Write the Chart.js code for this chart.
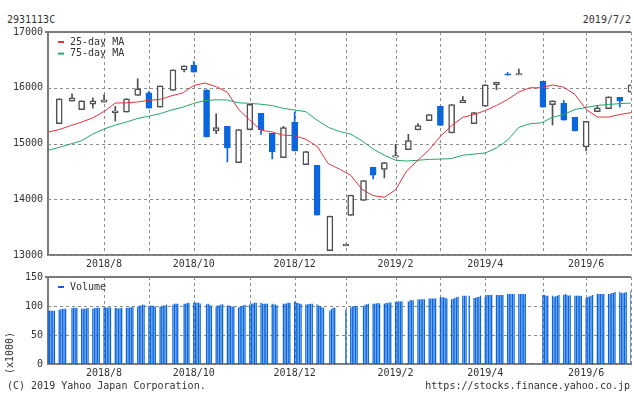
<!DOCTYPE html>
<html lang="ja">
<head>
<meta charset="UTF-8">
<title>2931113C</title>
<script src="https://cdn.jsdelivr.net/npm/chart.js@4"></script>
<style>
    body {
        margin: 0;
        width: 634px;
        height: 394px;
        position: relative;
        overflow: hidden;
        background: #fff;
        font-family: 'DejaVu Sans Mono', monospace;
        font-size: 10px;
        color: #333;
    }
    .txt { position: absolute; line-height: 12px; white-space: nowrap; }
    #wrapTop { position: absolute; left: 0; top: 0; width: 634px; height: 277px; }
    #wrapVol { position: absolute; left: 0; top: 262px; width: 634px; height: 120px; }
    #unit { left: -11px; top: 347px; width: 42px; text-align: center; transform: rotate(-90deg); }
</style>
</head>
<body>
<div class="txt" style="left:7px; top:14px;">2931113C</div>
<div class="txt" style="right:3px; top:14px;">2019/7/2</div>
<div id="wrapTop"><canvas id="priceChart"></canvas></div>
<div id="wrapVol"><canvas id="volumeChart"></canvas></div>
<div class="txt" id="unit">(x1000)</div>
<div class="txt" style="left:7px; top:380px;">(C) 2019 Yahoo Japan Corporation.</div>
<div class="txt" style="right:4px; top:380px;">https://stocks.finance.yahoo.co.jp</div>

<script>
// weekly candles: first trading day of each week
const candleDates = [
    '2018-07-09', '2018-07-17', '2018-07-23', '2018-07-30', '2018-08-06', '2018-08-13',
    '2018-08-20', '2018-08-27', '2018-09-03', '2018-09-10', '2018-09-18', '2018-09-25',
    '2018-10-01', '2018-10-09', '2018-10-15', '2018-10-22', '2018-10-29', '2018-11-05',
    '2018-11-12', '2018-11-19', '2018-11-26', '2018-12-03', '2018-12-10', '2018-12-17',
    '2018-12-25', '2019-01-04', '2019-01-07', '2019-01-15', '2019-01-21', '2019-01-28',
    '2019-02-04', '2019-02-12', '2019-02-18', '2019-02-25', '2019-03-04', '2019-03-11',
    '2019-03-18', '2019-03-25', '2019-04-01', '2019-04-08', '2019-04-15', '2019-04-22',
    '2019-05-07', '2019-05-13', '2019-05-20', '2019-05-27', '2019-06-03', '2019-06-10',
    '2019-06-17', '2019-06-24', '2019-07-01'
];
const openP = [
    15356, 15760, 15606, 15707, 15742, 15555, 15564, 15862, 15910, 15653, 15952, 16322,
    16400, 15964, 15224, 15308, 14658, 15249, 15540, 15183, 14748, 15379, 14622, 14610,
    13077, 13165, 13710, 13978, 14574, 14533, 14755, 14891, 15243, 15410, 15665, 15188,
    15732, 15356, 15671, 16054, 16250, 16228, 16113, 15696, 15719, 15469, 14938, 15571,
    15624, 15826, 15921
];
const highP = [
    15803, 15893, 15767, 15821, 15875, 15665, 15803, 16161, 15934, 16036, 16322, 16394,
    16470, 15964, 15535, 15308, 15249, 15701, 15540, 15183, 15308, 15564, 14855, 14610,
    13698, 13195, 14073, 14336, 14574, 14658, 14986, 15165, 15356, 15517, 15665, 15696,
    15844, 15553, 16054, 16100, 16274, 16333, 16113, 15767, 15773, 15469, 15397, 15683,
    15839, 15826, 16054
];
const lowP = [
    15356, 15760, 15606, 15635, 15742, 15403, 15564, 15862, 15635, 15653, 15952, 16286,
    16280, 15116, 15177, 14669, 14658, 15249, 15165, 14723, 14748, 14866, 14622, 13716,
    13077, 13165, 13710, 13978, 14365, 14383, 14755, 14891, 15243, 15410, 15326, 15188,
    15732, 15356, 15671, 15964, 16225, 16228, 15653, 15331, 15420, 15224, 14866, 15571,
    15624, 15653, 15921
];
const closeP = [
    15803, 15821, 15767, 15767, 15785, 15585, 15803, 15982, 15635, 16036, 16322, 16394,
    16280, 15116, 15285, 14920, 15249, 15701, 15249, 14848, 15285, 14866, 14855, 13716,
    13698, 13195, 14073, 14336, 14431, 14658, 14785, 15052, 15320, 15517, 15326, 15696,
    15773, 15553, 16054, 16100, 16225, 16255, 15653, 15767, 15420, 15224, 15397, 15642,
    15839, 15760, 16054
];

// moving averages, one value per week (Mondays from 2018-07-02)
const maStart = '2018-07-02';
const ma25 = [
    15205, 15250, 15320, 15385, 15460, 15575, 15725, 15730, 15745, 15775, 15790, 15855,
    15905, 16040, 16085, 16020, 15920, 15610, 15420, 15240, 15205, 15150, 15140, 15075,
    14950, 14640, 14540, 14430, 14180, 14065, 14035, 14170, 14510, 14700, 14890, 15130,
    15320, 15470, 15520, 15590, 15683, 15790, 15925, 16000, 16000, 16050, 16010, 15880,
    15610, 15475, 15474, 15520, 15553
];
const ma75 = [
    14878, 14930, 14990, 15050, 15170, 15260, 15330, 15385, 15450, 15490, 15535, 15600,
    15650, 15720, 15770, 15785, 15780, 15730, 15720, 15705, 15680, 15630, 15600, 15570,
    15420, 15290, 15215, 15170, 15050, 14900, 14790, 14700, 14685, 14700, 14715, 14720,
    14730, 14790, 14810, 14830, 14920, 15060, 15290, 15355, 15370, 15470, 15520, 15610,
    15645, 15683, 15700, 15715, 15725
];

// daily volume (x1000), Mon..Fri per week starting 2018-07-02, null = market closed
const volWeekStart = '2018-07-02';
const volume = [
    [92, 92, 92, 92, 92],
    [93.6, 94.2, 95, 95.3, 95.3],
    [null, 96.4, 97, 97, 97],
    [95.3, 95.3, 95.3, 96, 96.4],
    [95.3, 96, 97, 97, 97],
    [97.6, 97.6, 97.6, 97.6, 97.6],
    [96.4, 96.4, 95.3, 96, 96.4],
    [97, 97, 97.6, 98, 98.7],
    [98.7, 100.5, 101, 102.2, 102.2],
    [100.5, 100.5, 100.5, 100.5, 98.7],
    [98.7, 100.5, 100.5, 101, 102.2],
    [null, 102.2, 104, 104, 104],
    [null, 104, 104, 105, 105.7],
    [105.7, 105.7, 105.7, 105.7, 104.5],
    [null, 102.8, 104, 102.3, 99],
    [99, 101, 101, 102.8, 102.8],
    [101, 101, 100, 99, 99],
    [97.6, 99, 100, 101, 102],
    [102.8, 104, 104.5, 105.7, 105.7],
    [105.7, 104, 104, 104, 104],
    [104, 102.8, 102.8, 101, null],
    [104, 104, 104.5, 105.7, 105.7],
    [107.5, 105.7, 105, 104, 104],
    [102.8, 102.8, 103.5, 104, 104],
    [102.8, 101, 100, 98, 97],
    [null, 92.4, 95, 97, 97],
    [null, null, null, null, 93.8],
    [97.6, 99, 100, 100, 100],
    [null, 100, 102, 103, 104],
    [104, 104, 104.5, 105, 104.5],
    [104, 105, 105, 106, 106],
    [107, 107.5, 108, 108, 108],
    [null, 107.5, 110, 110, 110],
    [111, 111.5, 111.5, 111.5, 111.5],
    [113, 113, 113, 113, 113],
    [115, 115, 115, 114, 113],
    [111.5, 112.5, 114, 115, 116],
    [117.8, 117.8, 117.8, null, 117.8],
    [114, 114, 115.7, 115.7, 117.8],
    [115.7, 119, 119, 119, 119],
    [119, 119, 119, 119, 119],
    [120.7, 120.7, 120.7, 120.7, 120.7],
    [120.7, 120.7, 120.7, 120.7, 120.7],
    [null, null, null, null, null],
    [null, 119, 119, 117.8, 117.8],
    [117.8, 116, 117, 117.8, 119],
    [119, 120.7, 119, 117.8, 118.5],
    [117.8, 117.8, 117.8, 117.8, 117.8],
    [114, 115.7, 116.5, 117.8, 119],
    [120.7, 120.7, 120.7, 120.7, 120.7],
    [120.7, 120.7, 122.4, 122.4, 124],
    [124, 122.4, 122.4, 123, 124],
    [125.8]
];

// month grid lines (first trading week of each month) and their labels
const monthTickDates = [
    '2018-08-06', '2018-09-03', '2018-10-01', '2018-11-05', '2018-12-03', '2019-01-04',
    '2019-02-04', '2019-03-04', '2019-04-01', '2019-05-07', '2019-06-03', '2019-07-01'
];
const monthLabels = ['2018/8', '', '2018/10', '', '2018/12', '', '2019/2', '', '2019/4', '', '2019/6', ''];
const priceTicks = [13000, 14000, 15000, 16000, 17000];
const volumeTicks = [0, 50, 100, 150];

// --- helpers / styles ---
const ORIGIN = Date.parse('2018-07-09');
const WEEK = 7 * 864e5;
const toX = d => (Date.parse(d) - ORIGIN) / WEEK;

const FONT = { family: "'DejaVu Sans Mono', monospace", size: 10 };
const TXT = '#333';
const GRID = '#8c8c8c';
const FRAME = '#7a7a7a';
const BLUE = '#0b66dd';
const DARK = '#505050';
const RED = '#e5323c';
const GREEN = '#22a86a';

// dashed grid on the scale ticks + solid top edge of the frame
const frameGrid = {
    id: 'frameGrid',
    beforeDatasetsDraw(chart) {
        const { ctx, chartArea: a, scales: { x, y } } = chart;
        ctx.save();
        ctx.strokeStyle = GRID;
        ctx.lineWidth = 1;
        ctx.setLineDash([3, 3]);
        ctx.beginPath();
        x.ticks.forEach(t => {
            const px = Math.round(x.getPixelForValue(t.value)) + 0.5;
            ctx.moveTo(px, a.top);
            ctx.lineTo(px, a.bottom);
        });
        y.ticks.forEach(t => {
            const py = Math.round(y.getPixelForValue(t.value)) + 0.5;
            ctx.moveTo(a.left, py);
            ctx.lineTo(a.right, py);
        });
        ctx.stroke();
        ctx.setLineDash([]);
        ctx.strokeStyle = FRAME;
        ctx.lineWidth = 2;
        ctx.beginPath();
        ctx.moveTo(a.left - 3, a.top);
        ctx.lineTo(a.right, a.top);
        ctx.stroke();
        ctx.restore();
    }
};

// small legend inside the top-left corner of the plot
const insideLegend = {
    id: 'insideLegend',
    afterDraw(chart) {
        const { ctx, chartArea: a } = chart;
        let row = 0;
        ctx.save();
        ctx.font = "10px 'DejaVu Sans Mono'";
        ctx.textBaseline = 'middle';
        chart.data.datasets.forEach(ds => {
            if (!ds.legend) return;
            const y = a.top + 10 + row * 11.6;
            ctx.fillStyle = ds.legendColor;
            ctx.fillRect(a.left + 10, y - 1, 6, 2);
            ctx.fillStyle = TXT;
            ctx.fillText(ds.label, a.left + 22, y);
            row++;
        });
        ctx.restore();
    }
};

function xAxis(height) {
    return {
        type: 'linear',
        min: -1,
        max: 51,
        offset: false,
        afterBuildTicks: s => { s.ticks = monthTickDates.map(d => ({ value: toX(d) })); },
        afterFit: s => { s.height = height; },
        ticks: {
            autoSkip: false,
            maxRotation: 0,
            padding: 3,
            color: TXT,
            font: FONT,
            callback: (v, i) => monthLabels[i]
        },
        grid: { display: false, drawTicks: false },
        border: { color: FRAME, width: 2 }
    };
}

function yAxis(min, max, tickValues) {
    return {
        min: min,
        max: max,
        afterBuildTicks: s => { s.ticks = tickValues.map(v => ({ value: v })); },
        afterFit: s => { s.width = 48; },
        ticks: { padding: 5, color: TXT, font: FONT, callback: v => String(v) },
        grid: { display: false, drawTicks: false },
        border: { color: FRAME, width: 2 }
    };
}

// --- price chart ---
const up = closeP.map((c, i) => c >= openP[i]);

new Chart(document.getElementById('priceChart'), {
    type: 'bar',
    data: {
        datasets: [
            {
                type: 'line',
                label: '25-day MA',
                legend: true,
                legendColor: RED,
                data: ma25.map((v, i) => ({ x: toX(maStart) + i, y: v })),
                borderColor: RED,
                borderWidth: 1,
                pointRadius: 0,
                order: 0
            },
            {
                type: 'line',
                label: '75-day MA',
                legend: true,
                legendColor: GREEN,
                data: ma75.map((v, i) => ({ x: toX(maStart) + i, y: v })),
                borderColor: GREEN,
                borderWidth: 1,
                pointRadius: 0,
                order: 0
            },
            {
                label: 'body',
                data: candleDates.map((d, i) => ({ x: toX(d), y: [openP[i], closeP[i]] })),
                backgroundColor: up.map(u => u ? '#fff' : BLUE),
                borderColor: up.map(u => u ? DARK : BLUE),
                borderWidth: 1.5,
                borderSkipped: false,
                barThickness: 6,
                grouped: false,
                order: 1
            },
            {
                label: 'wick',
                data: candleDates.map((d, i) => ({ x: toX(d), y: [lowP[i], highP[i]] })),
                backgroundColor: up.map(u => u ? DARK : BLUE),
                barThickness: 1,
                grouped: false,
                order: 2
            }
        ]
    },
    options: {
        responsive: true,
        maintainAspectRatio: false,
        animation: false,
        layout: { padding: { top: 32, right: 3, left: 0, bottom: 0 } },
        scales: {
            x: xAxis(22),
            y: yAxis(13000, 17000, priceTicks)
        },
        plugins: { legend: { display: false }, tooltip: { enabled: false } }
    },
    plugins: [frameGrid, insideLegend]
});

// --- volume chart ---
const volPoints = [];
volume.forEach((week, w) => {
    week.forEach((v, k) => {
        if (v !== null) volPoints.push({ x: toX(volWeekStart) + w + k / 7, y: v });
    });
});

new Chart(document.getElementById('volumeChart'), {
    type: 'bar',
    data: {
        datasets: [{
            label: 'Volume',
            legend: true,
            legendColor: BLUE,
            data: volPoints,
            backgroundColor: BLUE,
            barThickness: 1.3,
            inflateAmount: 0
        }]
    },
    options: {
        responsive: true,
        maintainAspectRatio: false,
        animation: false,
        layout: { padding: { top: 15, right: 3, left: 0, bottom: 0 } },
        scales: {
            x: xAxis(18),
            y: yAxis(0, 150, volumeTicks)
        },
        plugins: { legend: { display: false }, tooltip: { enabled: false } }
    },
    plugins: [frameGrid, insideLegend]
});
</script>
</body>
</html>
